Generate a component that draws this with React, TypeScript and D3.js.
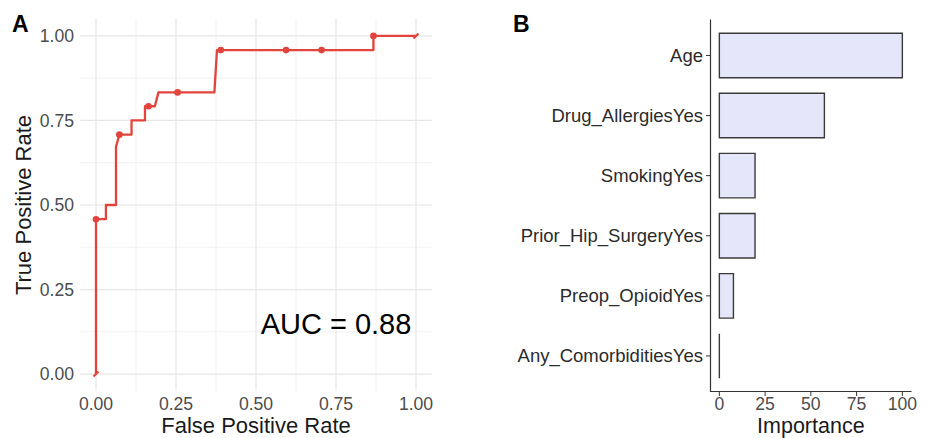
import React from "react";
import * as d3 from "d3";

// ROC curve vertices (FPR, TPR)
const rocFpr = [0, 0, 0.031, 0.031, 0.0625, 0.0625, 0.073, 0.111, 0.111, 0.153, 0.153, 0.164, 0.184, 0.195, 0.255, 0.37, 0.378, 0.39, 0.594, 0.705, 0.867, 0.867, 1];
const rocTpr = [0, 0.458, 0.458, 0.5, 0.5, 0.672, 0.708, 0.708, 0.75, 0.75, 0.792, 0.792, 0.792, 0.833, 0.833, 0.833, 0.958, 0.958, 0.958, 0.958, 0.958, 1, 1];
// Cutoff points drawn as dots
const dotFpr = [0, 0.073, 0.164, 0.255, 0.39, 0.594, 0.705, 0.867];
const dotTpr = [0.458, 0.708, 0.792, 0.833, 0.958, 0.958, 0.958, 1];
const rocTicks = [0, 0.25, 0.5, 0.75, 1];
const rocMinor = [0.125, 0.375, 0.625, 0.875];
const aucLabel = "AUC = 0.88";

// Variable importance
const features = ["Age", "Drug_AllergiesYes", "SmokingYes", "Prior_Hip_SurgeryYes", "Preop_OpioidYes", "Any_ComorbiditiesYes"];
const importance = [100, 57.4, 19.5, 19.5, 7.7, 0];
const impTicks = [0, 25, 50, 75, 100];

const FONT = "'Liberation Sans', Arial, Helvetica, sans-serif";
const RED = "#e2433c";

export default function App() {
  // Panel A scales
  const xA = d3.scaleLinear().domain([-0.05, 1.05]).range([80, 432]);
  const yA = d3.scaleLinear().domain([-0.05, 1.05]).range([391, 19]);
  const rocPts: [number, number][] = rocFpr.map((f, i) => [f, rocTpr[i]]);
  const line = d3.line<[number, number]>().x((d) => xA(d[0])).y((d) => yA(d[1]));

  // Panel B scales
  const xB = d3.scaleLinear().domain([-5, 105]).range([710.2, 911.5]);
  const yB = d3.scalePoint<string>().domain(features).range([19.4, 392]).padding(0.6);
  const barH = yB.step() * 0.74;

  return (
    <svg width={928} height={438} style={{ position: "absolute", left: 0, top: 0, background: "#fff" }} fontFamily={FONT}>
      <rect x={0} y={0} width={928} height={438} fill="#fff" />
      {/* Panel A grid */}
      {rocMinor.map((t) => (
        <g key={"mn" + t}>
          <line x1={xA(t)} x2={xA(t)} y1={19} y2={391} stroke="#efefef" strokeWidth={0.8} />
          <line x1={80} x2={432} y1={yA(t)} y2={yA(t)} stroke="#efefef" strokeWidth={0.8} />
        </g>
      ))}
      {rocTicks.map((t) => (
        <g key={"mj" + t}>
          <line x1={xA(t)} x2={xA(t)} y1={19} y2={391} stroke="#e6e6e6" strokeWidth={1.2} />
          <line x1={80} x2={432} y1={yA(t)} y2={yA(t)} stroke="#e6e6e6" strokeWidth={1.2} />
        </g>
      ))}
      {/* ROC line */}
      <path d={line(rocPts) || ""} fill="none" stroke={RED} strokeWidth={2.3} strokeLinejoin="round" />
      {dotFpr.map((f, i) => (
        <circle key={"d" + i} cx={xA(f)} cy={yA(dotTpr[i])} r={3.3} fill={RED} />
      ))}
      {/* end markers */}
      {[[0, 0], [1, 1]].map((p, i) => (
        <line key={"e" + i} x1={xA(p[0]) - 2.5} y1={yA(p[1]) + 2.5} x2={xA(p[0]) + 2.5} y2={yA(p[1]) - 2.5} stroke={RED} strokeWidth={2.2} />
      ))}
      {/* Panel A ticks */}
      {rocTicks.map((t) => (
        <text key={"yt" + t} x={74} y={yA(t)} dy="0.35em" textAnchor="end" fontSize={17.6} fill="#4d4d4d">
          {d3.format(".2f")(t)}
        </text>
      ))}
      {rocTicks.map((t) => (
        <text key={"xt" + t} x={xA(t)} y={410} textAnchor="middle" fontSize={17.6} fill="#4d4d4d">
          {d3.format(".2f")(t)}
        </text>
      ))}
      <text x={xA(0.5)} y={433} textAnchor="middle" fontSize={22} fill="#1a1a1a">False Positive Rate</text>
      <text transform={`translate(31,${yA(0.5)}) rotate(-90)`} textAnchor="middle" fontSize={22} fill="#1a1a1a">True Positive Rate</text>
      <text x={xA(0.75)} y={yA(0.15)} dy="0.36em" textAnchor="middle" fontSize={29} fill="#000">{aucLabel}</text>
      <text x={12} y={32} fontSize={23} fontWeight="bold" fill="#000">A</text>

      {/* Panel B */}
      <text x={513} y={32} fontSize={23} fontWeight="bold" fill="#000">B</text>
      {features.map((f, i) => {
        const yc = yB(f) as number;
        const x0 = xB(0);
        const x1 = xB(importance[i]);
        const y0 = yc - barH / 2;
        const y1 = yc + barH / 2;
        return (
          <g key={f}>
            <path d={`M${x0},${y0}H${x1}V${y1}H${x0}Z`} fill="#e6e6fa" stroke="#3a3a3a" strokeWidth={1.4} />
            <line x1={706} x2={710.5} y1={yc} y2={yc} stroke="#333" strokeWidth={1} />
            <text x={703} y={yc} dy="0.35em" textAnchor="end" fontSize={18.5} fill="#2b2b2b">{f}</text>
          </g>
        );
      })}
      <line x1={710.5} x2={710.5} y1={19.4} y2={392} stroke="#333" strokeWidth={1.2} />
      <line x1={710} x2={911.5} y1={391.5} y2={391.5} stroke="#333" strokeWidth={1.2} />
      {impTicks.map((t) => (
        <g key={"it" + t}>
          <line x1={xB(t)} x2={xB(t)} y1={391.5} y2={396} stroke="#333" strokeWidth={1} />
          <text x={xB(t)} y={410} textAnchor="middle" fontSize={17.6} fill="#4d4d4d">{t}</text>
        </g>
      ))}
      <text x={xB(50)} y={433} textAnchor="middle" fontSize={21.5} fill="#1a1a1a">Importance</text>
    </svg>
  );
}
